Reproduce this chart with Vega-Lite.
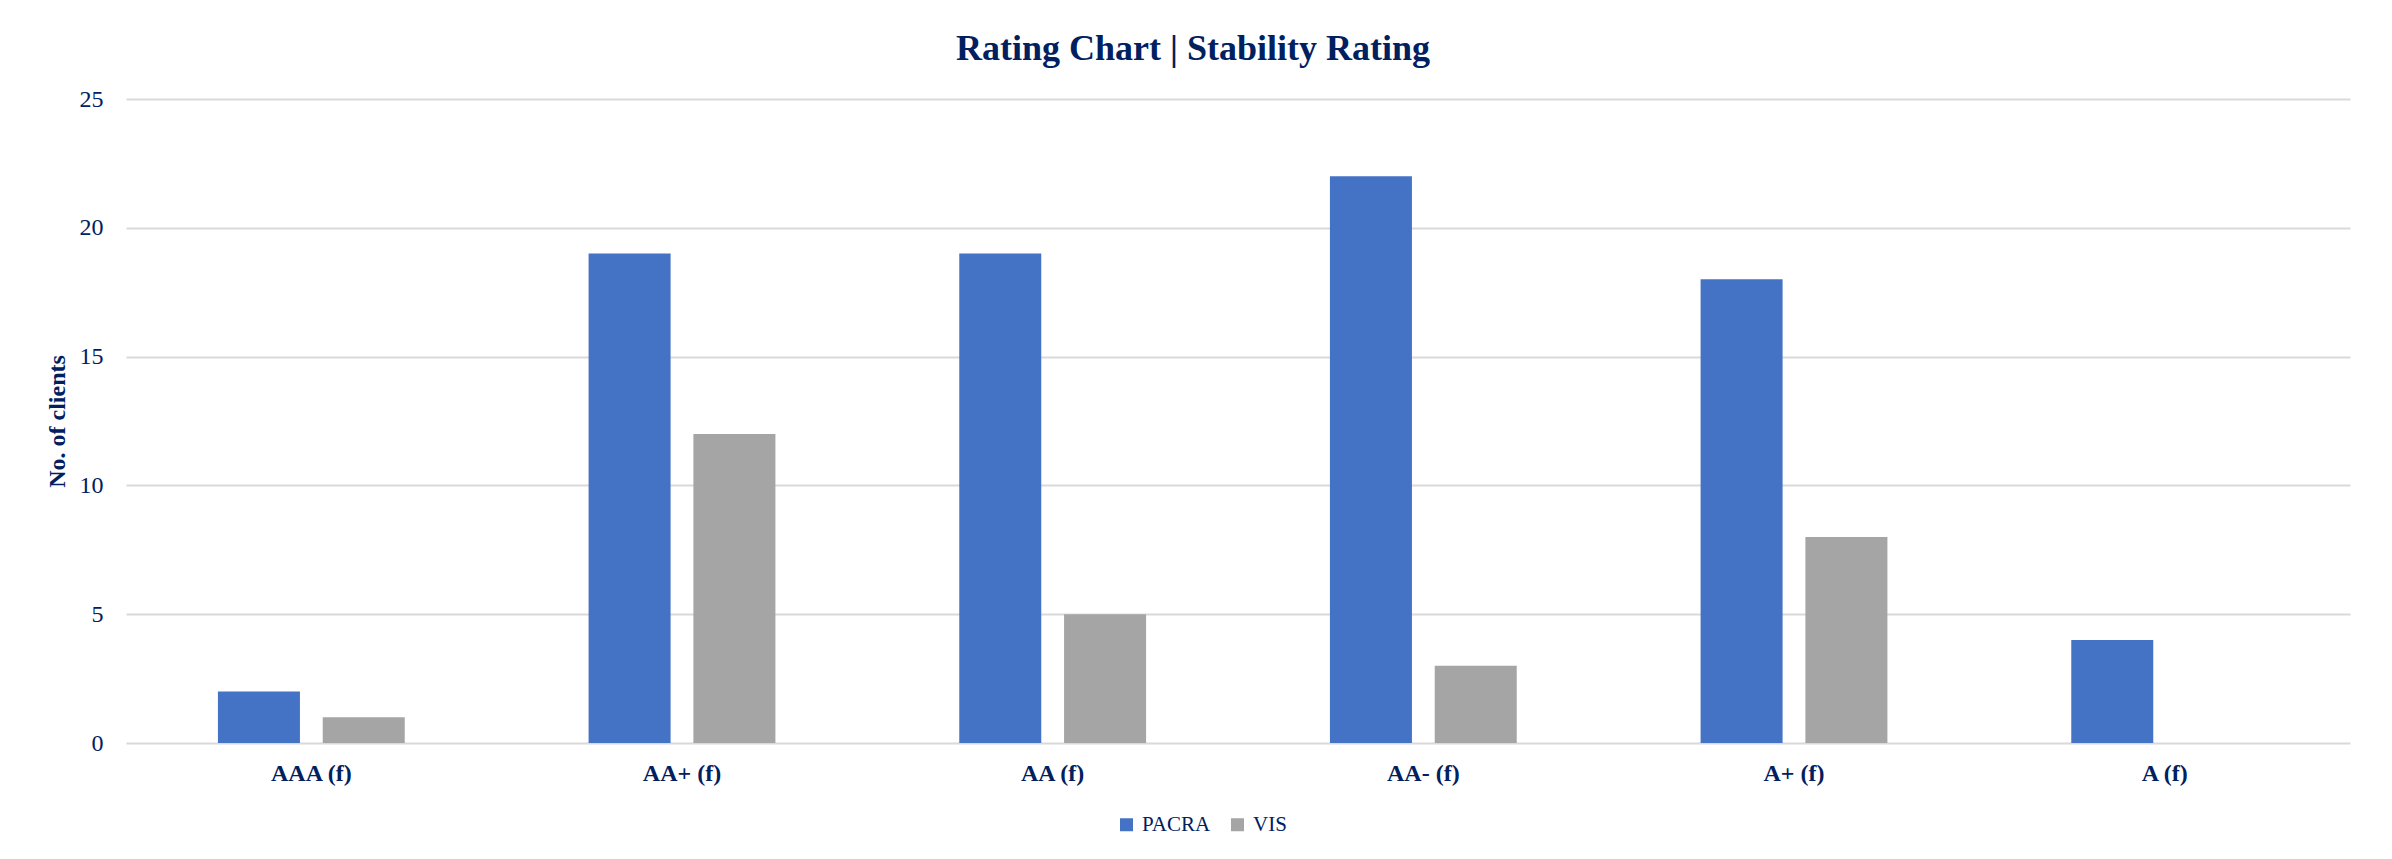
{
  "$schema": "https://vega.github.io/schema/vega-lite/v6.json",
  "width": 2224,
  "height": 644,
  "autosize": {"type": "none"},
  "padding": {"left": 126, "top": 99, "right": 42, "bottom": 116},
  "background": "white",
  "title": {
    "text": "Rating Chart | Stability Rating",
    "font": "Liberation Serif",
    "fontSize": 36,
    "fontWeight": "bold",
    "color": "#002060",
    "anchor": "middle",
    "dx": -45,
    "offset": 19
  },
  "data": {
    "values": [
      {"rating": "AAA (f)", "agency": "PACRA", "clients": 2},
      {"rating": "AAA (f)", "agency": "VIS", "clients": 1},
      {"rating": "AA+ (f)", "agency": "PACRA", "clients": 19},
      {"rating": "AA+ (f)", "agency": "VIS", "clients": 12},
      {"rating": "AA (f)", "agency": "PACRA", "clients": 19},
      {"rating": "AA (f)", "agency": "VIS", "clients": 5},
      {"rating": "AA- (f)", "agency": "PACRA", "clients": 22},
      {"rating": "AA- (f)", "agency": "VIS", "clients": 3},
      {"rating": "A+ (f)", "agency": "PACRA", "clients": 18},
      {"rating": "A+ (f)", "agency": "VIS", "clients": 8},
      {"rating": "A (f)", "agency": "PACRA", "clients": 4},
      {"rating": "A (f)", "agency": "VIS", "clients": 0}
    ]
  },
  "mark": {"type": "bar"},
  "encoding": {
    "x": {
      "field": "rating",
      "type": "nominal",
      "sort": ["AAA (f)", "AA+ (f)", "AA (f)", "AA- (f)", "A+ (f)", "A (f)"],
      "scale": {"paddingInner": 0.496, "paddingOuter": 0.248},
      "axis": {
        "title": null,
        "labelAngle": 0,
        "labelFont": "Liberation Serif",
        "labelFontSize": 24,
        "labelFontWeight": "bold",
        "labelColor": "#002060",
        "labelPadding": 18,
        "ticks": false,
        "domain": false,
        "grid": false
      }
    },
    "xOffset": {
      "field": "agency",
      "type": "nominal",
      "sort": ["PACRA", "VIS"],
      "scale": {"paddingInner": 0.2176, "paddingOuter": 0}
    },
    "y": {
      "field": "clients",
      "type": "quantitative",
      "scale": {"domain": [0, 25], "nice": false},
      "axis": {
        "title": "No. of clients",
        "titleFont": "Liberation Serif",
        "titleFontSize": 24,
        "titleFontWeight": "bold",
        "titleColor": "#002060",
        "titlePadding": 10,
        "values": [0, 5, 10, 15, 20, 25],
        "labelFont": "Liberation Serif",
        "labelFontSize": 24,
        "labelColor": "#002060",
        "labelPadding": 23,
        "ticks": false,
        "domain": false,
        "grid": true,
        "gridColor": "#D9D9D9",
        "gridWidth": 2
      }
    },
    "color": {
      "field": "agency",
      "type": "nominal",
      "sort": ["PACRA", "VIS"],
      "scale": {"domain": ["PACRA", "VIS"], "range": ["#4472C4", "#A5A5A5"]},
      "legend": {
        "title": null,
        "orient": "none",
        "direction": "horizontal",
        "legendX": 990,
        "legendY": 715,
        "symbolType": "square",
        "symbolSize": 169,
        "symbolStrokeWidth": 0,
        "labelFont": "Liberation Serif",
        "labelFontSize": 21,
        "labelColor": "#002060",
        "labelOffset": 5,
        "columnPadding": 16
      }
    }
  },
  "config": {
    "view": {"stroke": null}
  }
}
